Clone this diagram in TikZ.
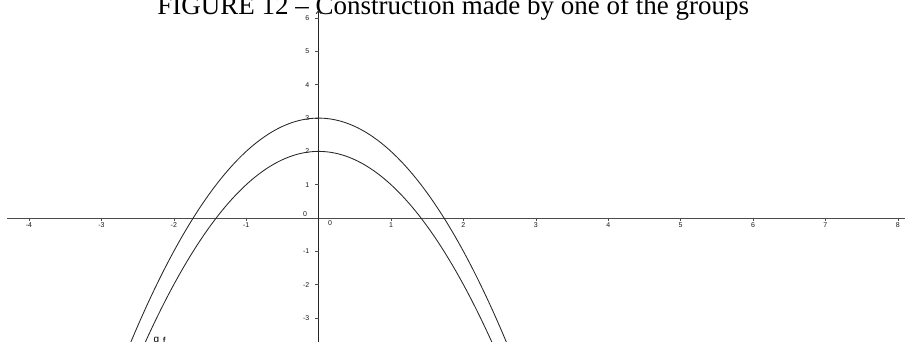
\documentclass[tikz,border=0pt]{standalone}
\usepackage{fontspec}
\setmainfont{Liberation Serif}
\setsansfont{Liberation Sans}
\usetikzlibrary{arrows.meta}
\tikzset{
  ticklabel/.style={font=\sffamily\fontsize{7}{8}\selectfont, text=black!90, inner sep=0pt},
  curvelabel/.style={font=\sffamily\fontsize{10}{11}\selectfont, inner sep=0pt, anchor=north},
  graph/.style={black!85, line width=0.85pt},
}
\begin{document}
\begin{tikzpicture}[x=72.4pt, y=33.3pt]
        \useasboundingbox (-4.4006,-3.7237) rectangle (8.0994,6.5466);
        \node[font=\fontsize{27}{30}\selectfont, anchor=base] (title) at (1.86,6.11) {FIGURE 12 -- Construction made by one of the groups};
        
        % axes
        \draw[black!70, line width=0.8pt] (-4.304,0) -- (8.2,0);
        \draw[black!85, line width=0.9pt, -{Straight Barb[length=3pt, width=5pt]}] (0,-3.8) -- (0,6.246);
        \foreach \i in {-4,-3,-2,-1,1,2,3,4,5,6,7,8} {
            \draw[black!70, line width=0.6pt] (\i,0) -- (\i,-0.09);
            \node[ticklabel] (x\i) at (\i,-0.21) {\i};
        }
        \foreach \j in {-3,-2,-1,1,2,3,4,5,6} {
            \draw[black!70, line width=0.6pt] (0,\j) -- (-0.045,\j);
            \node[ticklabel, anchor=east] (y\j) at (-0.125,\j) {\j};
        }
        \node[ticklabel] (y0) at (-0.187,0.12) {0};
        \node[ticklabel] (x0) at (0.157,-0.15) {0};
        
        % the two parabolas
        \draw[graph] plot[domain=-2.62:2.62, samples=120, smooth] (\x,{3-\x*\x});
        \draw[graph] plot[domain=-2.42:2.42, samples=120, smooth] (\x,{2-\x*\x});
        \node[curvelabel] (g) at (-2.24,-3.57) {g};
        \node[curvelabel] (f) at (-2.13,-3.57) {f};
        
    \end{tikzpicture}
\end{document}
